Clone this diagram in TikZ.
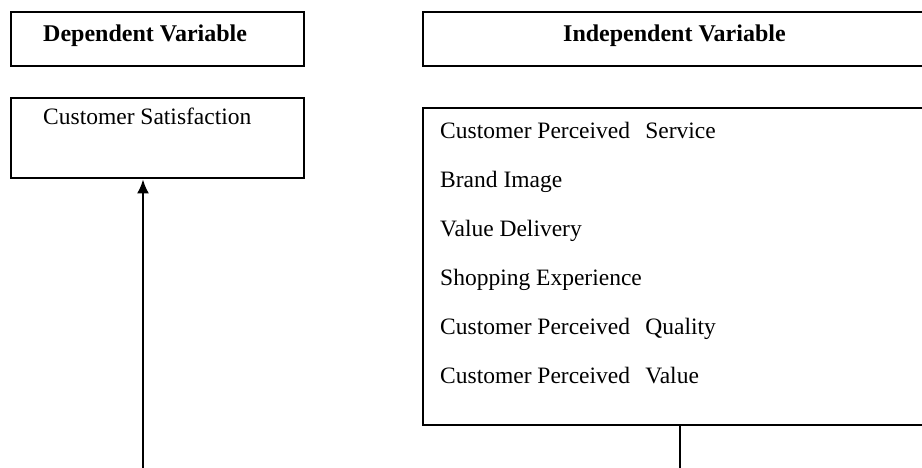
\documentclass[tikz,border=0pt]{standalone}
\usepackage{fontspec}
\setmainfont{Liberation Serif}
\usepackage{tikz}
\usetikzlibrary{arrows.meta, positioning, calc}

\begin{document}
\begin{tikzpicture}[
    x=1pt, y=-1pt,
    varbox/.style={
        rectangle, draw=black, line width=2.9pt, inner sep=0pt,
        minimum width=293pt, minimum height=54pt
    },
    widebox/.style={varbox, minimum width=510pt},
    headtext/.style={anchor=base west, inner sep=0pt, font=\fontsize{24}{28}\selectfont\bfseries},
    itemtext/.style={anchor=base west, inner sep=0pt, font=\fontsize{23.5}{28}\selectfont},
    arrow/.style={-{Latex[length=14pt,width=12pt]}, line width=2pt},
    link/.style={line width=2pt}
]
    \useasboundingbox (0,0) rectangle (922,468);
    \clip (0,0) rectangle (922,468);

    % variable headings
    \node [varbox]  (dep)   at (157.5,39) {};
    \node [widebox] (indep) at (678,39)   {};
    \node [headtext] (deptext)   at (43,42)  {Dependent Variable};
    \node [headtext] (indeptext) at (563,42) {Independent Variable};

    % dependent side
    \node [varbox, minimum height=80pt] (sat) at (157.5,138) {};
    \node [itemtext] (sattext) at (43,125) {Customer Satisfaction};

    % independent side
    \node [widebox, minimum height=317pt] (factors) at (678,266.5) {};
    \foreach \label [count=\i] in {
        Customer Perceived\hspace{0.4em} Service,
        Brand Image,
        Value Delivery,
        Shopping Experience,
        Customer Perceived\hspace{0.4em} Quality,
        Customer Perceived\hspace{0.4em} Value}
        \node [itemtext] (f\i) at (440,{139+48.8*(\i-1)}) {\label};

    % links leaving the page
    \coordinate (satin) at (143,470);
    \coordinate (factorsout) at (680,470);
    \draw [arrow] (satin) -- (satin |- sat.south);
    \draw [link] (factors.south -| factorsout) -- (factorsout);
\end{tikzpicture}
\end{document}
